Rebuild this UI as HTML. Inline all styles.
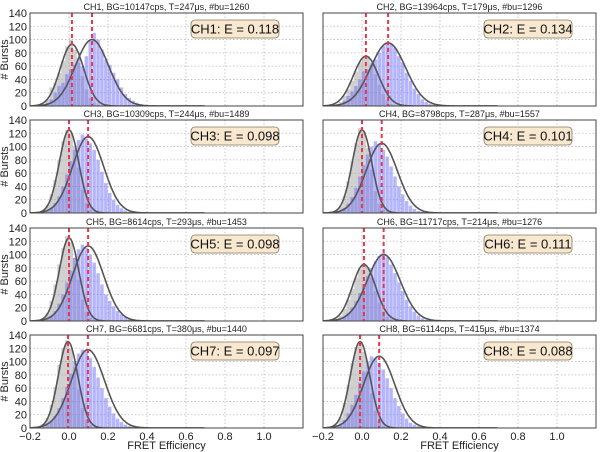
<!DOCTYPE html>
<html><head><meta charset="utf-8"><style>
html,body{margin:0;padding:0;background:#fff;}
svg{display:block;font-family:"Liberation Sans",sans-serif;}
</style></head><body>
<svg id="fig" width="600" height="452" viewBox="0 0 600 452"></svg>
<script>
// ---- data ----
const channels = ["CH1","CH2","CH3","CH4","CH5","CH6","CH7","CH8"];
const titles = [
 "CH1, BG=10147cps, T=247\u03bcs, #bu=1260",
 "CH2, BG=13964cps, T=179\u03bcs, #bu=1296",
 "CH3, BG=10309cps, T=244\u03bcs, #bu=1489",
 "CH4, BG=8798cps, T=287\u03bcs, #bu=1557",
 "CH5, BG=8614cps, T=293\u03bcs, #bu=1453",
 "CH6, BG=11717cps, T=214\u03bcs, #bu=1276",
 "CH7, BG=6681cps, T=380\u03bcs, #bu=1440",
 "CH8, BG=6114cps, T=415\u03bcs, #bu=1374"];
const Evalues = ["0.118","0.134","0.098","0.101","0.098","0.111","0.097","0.088"];
const binStart = -0.16, binWidth = 0.02;
const blueCounts = [
 [0,2,5,10,20,30,35,48,55,62,72,60,75,98,110,100,85,70,62,50,40,28,18,12,8,5,3,1,0,0],
 [0,1,3,8,15,22,30,40,52,55,65,70,80,90,95,93,88,75,65,50,38,26,18,10,6,3,2,1,0,0],
 [0,1,3,8,15,25,40,58,78,95,110,118,112,105,95,80,62,45,30,20,12,7,4,2,1,0,0,0,0,0],
 [0,1,3,7,14,24,38,55,72,88,100,108,104,95,85,70,55,40,28,18,11,6,3,2,1,0,0,0,0,0],
 [0,1,3,8,15,26,40,58,76,95,108,115,110,100,88,72,55,40,30,22,15,10,6,4,2,1,0,0,0,0],
 [0,1,2,6,12,20,30,42,55,68,80,90,98,102,96,85,72,58,45,32,22,14,8,4,2,1,0,0,0,0],
 [0,2,5,10,18,30,45,62,82,100,112,118,115,105,92,76,60,45,32,22,14,9,5,3,2,1,1,0,0,0],
 [0,2,5,12,22,35,50,68,85,100,108,105,98,88,75,60,45,33,22,14,8,5,3,2,1,0,0,0,0,0]];
const grayCounts = [
 [0,3,10,28,35,50,68,90,100,85,65,45,25,12,5,2],
 [0,2,6,15,25,38,52,65,72,75,62,48,32,18,8,3,1],
 [0,4,12,28,50,80,108,125,120,100,68,35,15,5,2],
 [0,3,10,26,48,78,105,128,122,98,65,33,14,5,2],
 [0,4,12,30,55,85,110,128,118,95,62,32,14,5,2],
 [0,2,8,18,32,48,65,78,86,80,65,45,28,14,6,2],
 [0,5,15,35,62,95,120,132,120,92,58,30,12,4,1],
 [0,5,16,38,65,98,122,130,115,85,52,26,10,3,1]];
const grayMu    = [0.015,0.02,0.0,0.0,0.0,0.01,-0.005,-0.01];
const graySigma = [0.06,0.065,0.05,0.05,0.05,0.06,0.05,0.05];
const grayPeak  = [93,75,125,125,125,85,130,130];
const blueMu    = [0.118,0.134,0.098,0.101,0.098,0.111,0.097,0.088];
const blueSigma = [0.085,0.09,0.08,0.08,0.08,0.085,0.085,0.08];
const bluePeak  = [100,95,115,105,113,100,118,108];
const xTicks = [-0.2,0.0,0.2,0.4,0.6,0.8,1.0];
const xTickLabels = ["\u22120.2","0.0","0.2","0.4","0.6","0.8","1.0"];
const yTicks = [0,20,40,60,80,100,120,140];

// ---- layout ----
const NS="http://www.w3.org/2000/svg";
const svg=document.getElementById('fig');
const colX=[30,323], panelW=273;
const rowY=[13,120,228,335], panelH=93;
const xMin=-0.2,xMax=1.2,yMax=140;
function mk(tag,attrs,parent){const e=document.createElementNS(NS,tag);for(const k in attrs)e.setAttribute(k,attrs[k]);(parent||svg).appendChild(e);return e;}

channels.forEach((ch,i)=>{
  const col=i%2,row=Math.floor(i/2);
  const x0=colX[col],y0=rowY[row];
  const sx=v=>x0+(v-xMin)/(xMax-xMin)*panelW;
  const sy=v=>y0+panelH-v/yMax*panelH;
  const g=mk('g',{});
  
  
  const clipId='clip'+i;
  const cp=mk('clipPath',{id:clipId},g);
  mk('rect',{x:x0,y:y0,width:panelW,height:panelH},cp);
  const grid=mk('g',{stroke:'#bbb','stroke-width':0.8,'stroke-dasharray':'1.5,2'},g);
  
  
  xTicks.forEach(t=>{if(t>xMin)mk('line',{x1:sx(t),x2:sx(t),y1:y0,y2:y0+panelH},grid);});
  yTicks.forEach(t=>{if(t>0&&t<yMax)mk('line',{x1:x0,x2:x0+panelW,y1:sy(t),y2:sy(t)},grid);});
  const plot=mk('g',{'clip-path':'url(#'+clipId+')'},g);
  grayCounts[i].forEach((c,k)=>{
    if(!c)return;
    const r=mk('rect',{x:sx(binStart+k*binWidth),y:sy(c),width:sx(binWidth)-sx(0),height:sy(0)-sy(c),fill:'rgba(150,150,150,0.45)'},plot);
    
    
  });
  blueCounts[i].forEach((c,k)=>{
    if(!c)return;
    const r=mk('rect',{x:sx(binStart+k*binWidth),y:sy(c),width:sx(binWidth)-sx(0)-0.4,height:sy(0)-sy(c),fill:'rgba(110,110,250,0.5)'},plot);
    
    
  });
  [[grayMu[i],graySigma[i],grayPeak[i],'gray-fit'],[blueMu[i],blueSigma[i],bluePeak[i],'blue-fit']].forEach(p=>{
    let d='';
    for(let v=-0.25;v<=0.7;v+=0.005){const yv=p[2]*Math.exp(-((v-p[0])**2)/(2*p[1]*p[1]));d+=(d?'L':'M')+sx(v).toFixed(1)+','+sy(yv).toFixed(1);}
    const pa=mk('path',{d:d,fill:'none',stroke:'#555','stroke-width':1.6},plot);
    
    
  });
  [grayMu[i],blueMu[i]].forEach((m,k)=>{
    const l=mk('line',{x1:sx(m),x2:sx(m),y1:y0,y2:y0+panelH,stroke:'#e8364a','stroke-width':2,'stroke-dasharray':'4,3'},plot);
    
    
  });
  const fr=mk('rect',{x:x0,y:y0,width:panelW,height:panelH,fill:'none',stroke:'#444','stroke-width':1},g);
  
  
  const t=mk('text',{x:x0+panelW/2,y:y0-3,'text-anchor':'middle','font-size':9,fill:'#222'},g);
  t.textContent=titles[i];
  
  
  const bx=x0+161,by=y0+7;
  const lb=mk('rect',{x:bx,y:by,width:88,height:18,rx:4,fill:'#f7e8cf',stroke:'#8a7a60','stroke-width':0.8},g);
  
  
  const lt=mk('text',{x:bx+44,y:by+13.5,'text-anchor':'middle','font-size':13,fill:'#111'},g);
  lt.textContent=ch+': E = '+Evalues[i];
  
  
  if(col===0){
    yTicks.forEach(tv=>{
      const tt=mk('text',{x:x0-3,y:sy(tv)+4,'text-anchor':'end','font-size':11,fill:'#222'},g);
      tt.textContent=tv;
      
      
    });
    const yl=mk('text',{x:0,y:0,transform:'translate(8,'+(y0+panelH/2)+') rotate(-90)','text-anchor':'middle','font-size':11,fill:'#222'},g);
    yl.textContent='# Bursts';
    
    
  }
  if(row===3){
    xTicks.forEach((tv,k)=>{
      const tt=mk('text',{x:sx(tv),y:y0+panelH+12,'text-anchor':'middle','font-size':11,fill:'#222'},g);
      tt.textContent=xTickLabels[k];
      
      
    });
    const xl=mk('text',{x:x0+panelW/2,y:449,'text-anchor':'middle','font-size':11,fill:'#222'},g);
    xl.textContent='FRET Efficiency';
    
    
  }
});
</script>
</body></html>
